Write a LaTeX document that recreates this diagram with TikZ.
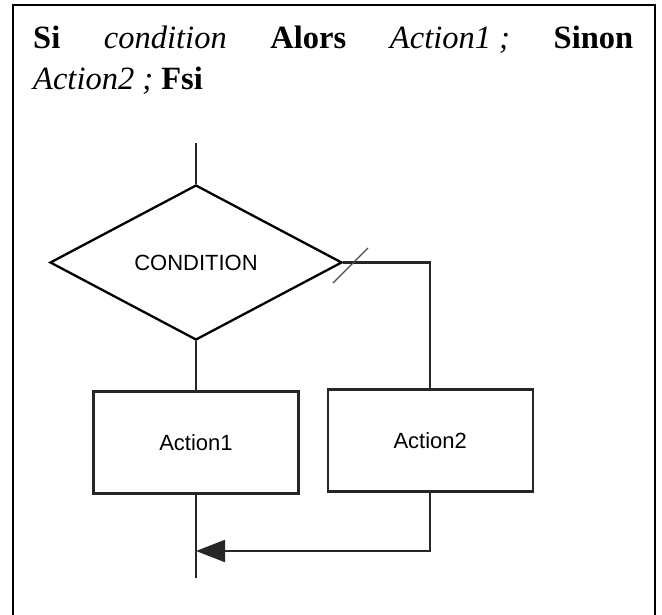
\documentclass[tikz,border=0pt]{standalone}
\usepackage{fontspec}
\setmainfont{Liberation Serif}
\newfontfamily\chartfont{Liberation Sans}
\usetikzlibrary{shapes.geometric,arrows.meta}

\tikzset{
  flow/.style={draw=black!85, line width=2.1pt},
  actionbox/.style={flow, rectangle, inner sep=0pt,
    minimum width=205pt, minimum height=102pt,
    font=\chartfont\fontsize{22}{24}\selectfont, text=black},
  testbox/.style={flow, draw=black, line width=2.3pt, diamond, inner sep=0pt,
    minimum width=292pt, minimum height=155pt,
    font=\chartfont\fontsize{22}{24}\selectfont, text=black},
  link/.style={draw=black!85, line width=2.1pt},
  backlink/.style={link, -{Triangle[length=29pt,width=22pt]}},
  titletext/.style={inner sep=0pt, anchor=base west,
    font=\fontsize{32.5}{38}\selectfont},
}

\begin{document}
\begin{tikzpicture}[x=1pt,y=-1pt]
  \useasboundingbox (0,0) rectangle (662,614);
  \fill[white] (0,0) rectangle (662,614);

  % surrounding frame, open at the bottom edge
  \draw[line width=2pt] (12.5,616) -- (12.5,5) -- (655,5) -- (655,616);

  % statement written out in words
  \node[titletext] (line1) at (33,48)
    {\hbox to 600pt{\textbf{Si}\hfill\textit{condition}\hfill\textbf{Alors}\hfill\textit{Action1 ;}\hfill\textbf{Sinon}}};
  \node[titletext] (line2) at (33,89)
    {\textit{Action2 ;} \textbf{Fsi}};

  % flowchart
  \coordinate (entry) at (196,143);
  \node[testbox] (cond) at (196,262.5) {CONDITION};
  \node[actionbox] (act1) at (196,442.5) {Action1};
  \node[actionbox] (act2) at (430.2,440.5) {Action2};
  \coordinate (join) at (196,551);
  \coordinate (exit) at (196,578);
  \coordinate (elsemark) at (350.5,265.5);

  \draw[link] (entry) -- (cond.north);
  \draw[link] (cond.south) -- (act1.north);
  \draw[link] (cond.east) -| (act2.north);
  \draw[link] (act1.south) -- (exit);
  \draw[backlink] (act2.south) |- (join);

  % slash marking the "else" branch
  \draw[black!70, line width=1.1pt] ([shift={(-17.5,17.5)}]elsemark) -- ([shift={(17.5,-17.5)}]elsemark);
\end{tikzpicture}
\end{document}
